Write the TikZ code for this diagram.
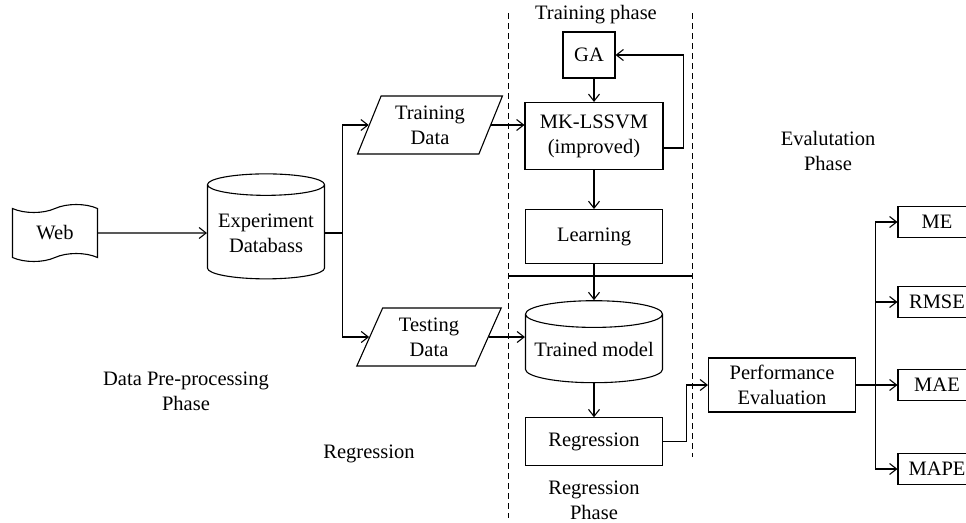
\documentclass[tikz,border=0pt]{standalone}
\usepackage{fontspec}
\setmainfont{Liberation Serif}
\usetikzlibrary{arrows.meta,positioning,shapes.geometric,shapes.symbols}

\begin{document}
\begin{tikzpicture}[
  x=1pt, y=-1pt,
  font=\fontsize{20.5}{25}\selectfont,
  line width=1.1pt,
  >={Straight Barb[length=7pt,width=11pt]},
  box/.style={draw, align=center, inner sep=2pt},
  metric/.style={draw, align=center, minimum width=78pt, minimum height=31pt, inner sep=1pt},
  store/.style={draw, cylinder, shape border rotate=90, aspect=0.22, align=center, inner sep=1pt},
  dataio/.style={draw, trapezium, trapezium left angle=67, trapezium right angle=113,
    trapezium stretches=true, align=center, minimum width=145pt, minimum height=58pt, inner sep=1pt},
  link/.style={->},
  phase/.style={dash pattern=on 6pt off 4pt, line width=0.9pt},
  note/.style={align=center}
]
\useasboundingbox (0,0) rectangle (966,522);

% pre-processing side
\node[draw, tape, tape bend height=8pt, minimum width=85pt, minimum height=57pt] (web) at (55,233) {Web};
\node[store, minimum width=117pt, minimum height=105pt] (db) at (266,233) {Experiment\\Databass};
\node[dataio] (train) at (430,125) {Training\\Data};
\node[dataio] (test) at (429,337) {Testing\\Data};

% training and regression column
\node[box, minimum width=52pt, minimum height=46pt] (ga) at (589,55) {GA};
\node[box, minimum width=138pt, minimum height=67pt] (mk) at (594,136) {MK-LSSVM\\(improved)};
\node[box, minimum width=137pt, minimum height=54pt, below=39pt of mk] (learn) {Learning};
\node[store, minimum width=137pt, minimum height=82pt, below=36pt of learn] (tm) {Trained model};
\node[box, minimum width=137pt, minimum height=48pt, below=34pt of tm] (reg) {Regression};

% evaluation
\node[box, minimum width=147pt, minimum height=54pt] (pe) at (782,385) {Performance\\Evaluation};

% phase separators
\draw[phase] (508,13) -- (508,518);
\draw[phase] (692,13) -- (692,457);
\draw (508,276) -- (692,276);

% labels
\node[note] (trainlbl) at (596,15) {Training phase};
\node[note] (evallbl) at (828,151) {Evalutation\\Phase};
\node[note] (preplbl) at (186,391) {Data Pre-processing\\Phase};
\node[note] (regrlbl) at (369,454) {Regression};
\node[note] (regphlbl) at (594,500) {Regression\\Phase};

% flow
\draw[link] (web) -- (db);
\draw (db.east) -- ++(17,0) coordinate (split);
\draw[link] (split) |- (train.west);
\draw[link] (split) |- (test.west);
\draw[link] (train.east) -- (train.east -| mk.west);
\draw[link] (test.east) -- (test.east -| tm.west);
\draw[link] (ga.south -| mk.north) -- (mk.north);
\draw[link] ([yshift=-12pt]mk.east) -- ++(20,0) |- (ga.east);
\draw[link] (mk) -- (learn);
\draw[link] (learn) -- (tm);
\draw[link] (tm) -- (reg);
\draw[link] (reg.east) -- ++(23,0) |- (pe.west);
\draw (pe.east) -- ++(19,0) coordinate (fork);
\foreach \name/\y in {ME/222, RMSE/302, MAE/385, MAPE/469} {
  \node[metric] (\name) at (937,\y) {\name};
  \draw[link] (fork) |- (\name.west);
}

\end{tikzpicture}
\end{document}
